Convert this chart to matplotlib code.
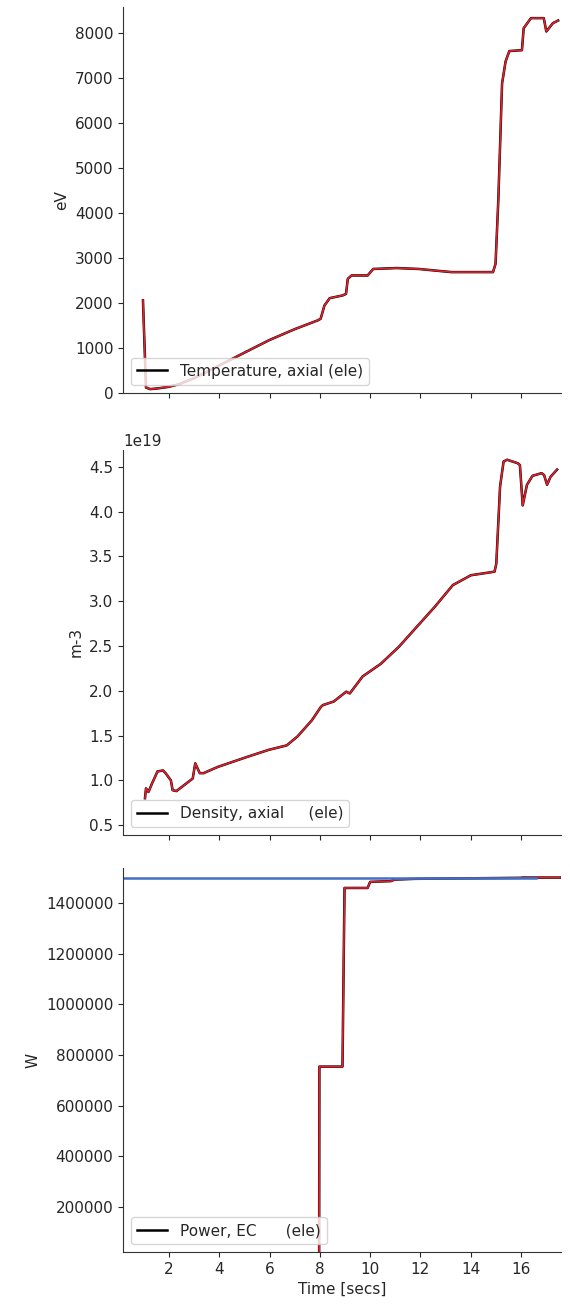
import numpy as np
import matplotlib
matplotlib.use('Agg')
import matplotlib.pyplot as plt

# temperature, axial (eV)
temp_t = [0.96, 1.08, 1.25, 1.6, 1.97, 2.4, 3.0, 3.85, 5.29, 6.0, 7.0, 7.89, 8.03, 8.18, 8.39,
          8.9, 9.04, 9.11, 9.26, 9.9, 10.12, 11.06, 11.93, 13.23, 14.89, 14.99, 15.1,
          15.25, 15.39, 15.54, 16.04, 16.11, 16.4, 16.91, 17.01, 17.27, 17.48]
temp_v = [2050, 110, 75, 95, 125, 185, 320, 560, 970, 1170, 1410, 1600, 1640, 1935, 2100,
          2160, 2195, 2530, 2605, 2605, 2750, 2770, 2750, 2680, 2680, 2865, 4280,
          6880, 7370, 7600, 7620, 8110, 8333, 8333, 8036, 8220, 8280]

# density, axial (m-3)
dens_t = [1.04, 1.08, 1.18, 1.32, 1.54, 1.76, 1.86, 2.07, 2.14, 2.29, 2.94, 3.04, 3.22,
          3.37, 3.94, 5.09, 5.96, 6.68, 7.11, 7.68, 8.04, 8.12, 8.55, 9.05, 9.19, 9.7,
          10.42, 11.14, 12.58, 13.29, 14.01, 14.95, 15.02, 15.17, 15.31, 15.45, 15.88,
          15.96, 16.07, 16.24, 16.46, 16.82, 16.92, 17.04, 17.18, 17.44]
dens_v = [0.80, 0.91, 0.87, 0.965, 1.10, 1.11, 1.08, 1.0, 0.89, 0.88, 1.02, 1.19, 1.08,
          1.08, 1.15, 1.26, 1.34, 1.39, 1.49, 1.67, 1.82, 1.84, 1.88, 1.99, 1.97, 2.16,
          2.30, 2.49, 2.94, 3.18, 3.29, 3.33, 3.42, 4.28, 4.56, 4.58, 4.54, 4.52, 4.07,
          4.30, 4.40, 4.43, 4.41, 4.30, 4.39, 4.47]
dens_v = [v * 1e19 for v in dens_v]

# power, EC (W)
pow_t = [0.17, 7.97, 7.98, 8.05, 8.9, 8.98, 9.9, 10.0, 10.83, 10.97, 11.77, 16.0, 16.05, 17.55]
pow_v = [0, 0, 754000, 754000, 754000, 1459000, 1459000, 1483000, 1486000, 1492000,
         1495000, 1499000, 1500000, 1500000]
req_t = [0.17, 16.6]
req_v = [1500000, 1500000]

plt.rcParams['font.size'] = 11
plt.rcParams['text.color'] = '#262626'
plt.rcParams['axes.labelcolor'] = '#262626'
plt.rcParams['xtick.color'] = '#262626'
plt.rcParams['ytick.color'] = '#262626'
plt.rcParams['axes.edgecolor'] = '#333333'

fig, axes = plt.subplots(3, 1, sharex=True, figsize=(5.7, 13.04), dpi=100)

positions = [(0.699, 0.9946), (0.3597, 0.655), (0.0399, 0.3344)]
for ax, (b, t) in zip(axes, positions):
    ax.set_position([0.216, b, 0.984 - 0.216, t - b])
    ax.spines['top'].set_visible(False)
    ax.spines['right'].set_visible(False)

red = '#e3202b'

ax = axes[0]
ax.plot(temp_t, temp_v, color='black', lw=1.8, label='Temperature, axial (ele)')
ax.plot(temp_t, temp_v, color=red, lw=1.2)
ax.set_ylim(0, 8580)
ax.set_ylabel('eV')
ax.legend(loc='lower left')

ax = axes[1]
ax.plot(dens_t, dens_v, color='black', lw=1.8, label='Density, axial     (ele)')
ax.plot(dens_t, dens_v, color=red, lw=1.2)
ax.set_ylim(0.39e19, 4.69e19)
ax.set_ylabel('m-3')
ax.legend(loc='lower left')

ax = axes[2]
ax.plot(pow_t, pow_v, color='black', lw=1.8, label='Power, EC      (ele)')
ax.plot(pow_t, pow_v, color=red, lw=1.2)
ax.plot(req_t, req_v, color='#3f6fc6', lw=1.8)
ax.set_ylim(22500, 1538000)
ax.set_ylabel('W')
ax.ticklabel_format(axis='y', style='plain')
ax.legend(loc='lower left')
ax.set_xlabel('Time [secs]')
ax.set_xlim(0.17, 17.59)
ax.set_xticks(np.arange(2, 17, 2))

fig.savefig('out.png')
